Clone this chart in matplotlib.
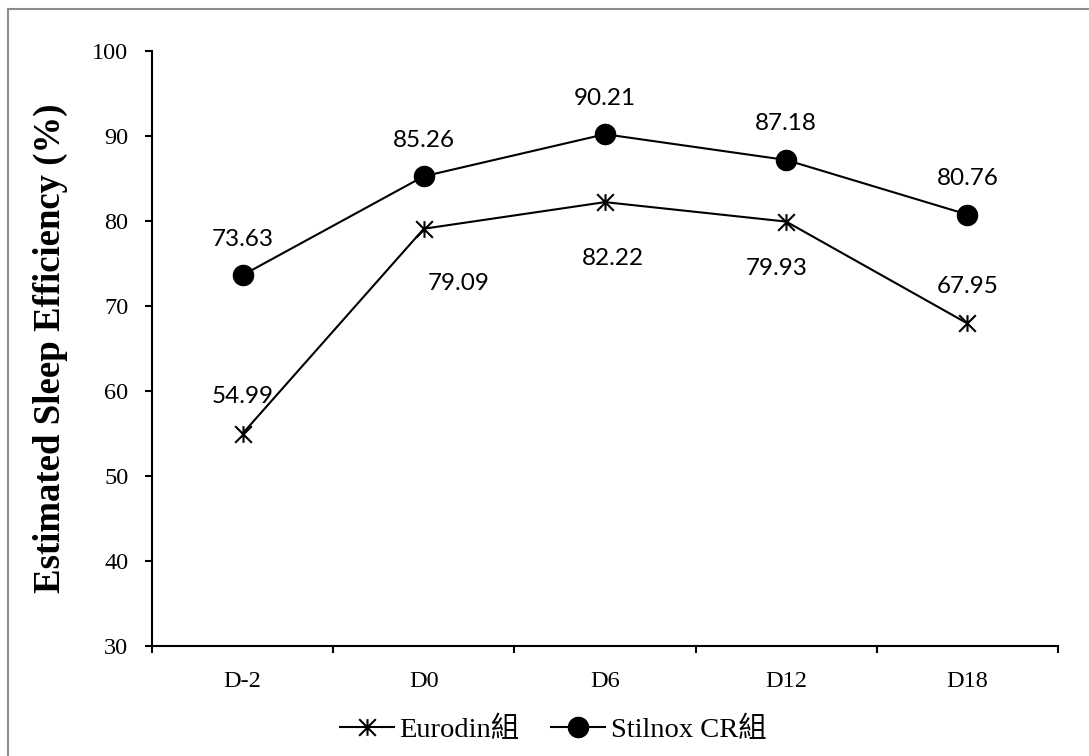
import matplotlib
matplotlib.use("Agg")
import matplotlib.pyplot as plt
from matplotlib.path import Path
from matplotlib.patches import Rectangle

# data
days = ["D-2", "D0", "D6", "D12", "D18"]
eurodin = [54.99, 79.09, 82.22, 79.93, 67.95]
stilnox = [73.63, 85.26, 90.21, 87.18, 80.76]
series_names = ["Eurodin組", "Stilnox CR組"]
y_ticks = [30, 40, 50, 60, 70, 80, 90, 100]

# label offsets in pixels (dx, dy)
eurodin_off = [(0, 37), (35, -55), (8, -56), (-10, -47), (0, 37)]
stilnox_off = [(0, 36), (0, 36), (0, 36), (0, 36), (0, 36)]

serif = ["Liberation Serif", "Noto Sans CJK TC"]

# excel style star: X with a vertical bar
star = Path([(-1, -1), (1, 1), (-1, 1), (1, -1), (0, -1), (0, 1)],
            [Path.MOVETO, Path.LINETO, Path.MOVETO, Path.LINETO,
             Path.MOVETO, Path.LINETO])

W, H = 1089, 756
fig = plt.figure(figsize=(W / 100, H / 100), dpi=100)
ax = fig.add_axes([152 / W, 1 - 646 / H, 906 / W, 595 / H])

x = list(range(len(days)))
ax.plot(x, eurodin, color="black", lw=1.5, marker=star, ms=12,
        mfc="none", mec="black", mew=1.5, label=series_names[0])
ax.plot(x, stilnox, color="black", lw=1.5, marker="o", ms=14.5,
        mfc="black", mec="black", label=series_names[1])

for xi, v, off in zip(x, eurodin, eurodin_off):
    ax.annotate(f"{v:.2f}", (xi, v), xytext=off, textcoords="offset pixels",
                ha="center", va="center", fontsize=17.5, family="Lato")
for xi, v, off in zip(x, stilnox, stilnox_off):
    ax.annotate(f"{v:.2f}", (xi, v), xytext=off, textcoords="offset pixels",
                ha="center", va="center", fontsize=17.5, family="Lato")

ax.set_xlim(-0.5, len(days) - 0.5)
ax.set_ylim(30, 100)
ax.set_yticks(y_ticks)
ax.set_xticks([i - 0.5 for i in range(len(days) + 1)])
ax.set_xticklabels([])
ax.set_xticks(x, minor=True)
ax.set_xticklabels(days, minor=True)

ax.spines["top"].set_visible(False)
ax.spines["right"].set_visible(False)
for s in ("left", "bottom"):
    ax.spines[s].set_linewidth(1.5)

ax.tick_params(axis="x", which="major", length=5, width=1.5, direction="out")
ax.tick_params(axis="x", which="minor", length=0, pad=18,
               labelsize=17.5, labelfontfamily="Liberation Serif")
ax.tick_params(axis="y", length=5, width=1.5, direction="out", pad=12,
               labelsize=17.5, labelfontfamily="Liberation Serif")

fig.text(50 / W, 1 - 348 / H, "Estimated Sleep Efficiency (%)", rotation=90,
         ha="center", va="center", fontsize=26.5, fontweight="bold",
         family=serif)

ax.legend(loc="center", bbox_to_anchor=(553 / W, 1 - 730 / H),
          bbox_transform=fig.transFigure, ncol=2, frameon=False,
          prop={"family": serif, "size": 20.5}, handlelength=1.9,
          handletextpad=0.2, columnspacing=1.1, borderpad=0)

# outer chart border (right/bottom run off the image like the reference)
fig.patches.append(Rectangle((8 / W, -10 / H), (W + 10) / W, (H - 9 + 10) / H,
                             transform=fig.transFigure, fill=False,
                             edgecolor="#8c8c8c", lw=1.5))

fig.savefig("out.png", dpi=100)
